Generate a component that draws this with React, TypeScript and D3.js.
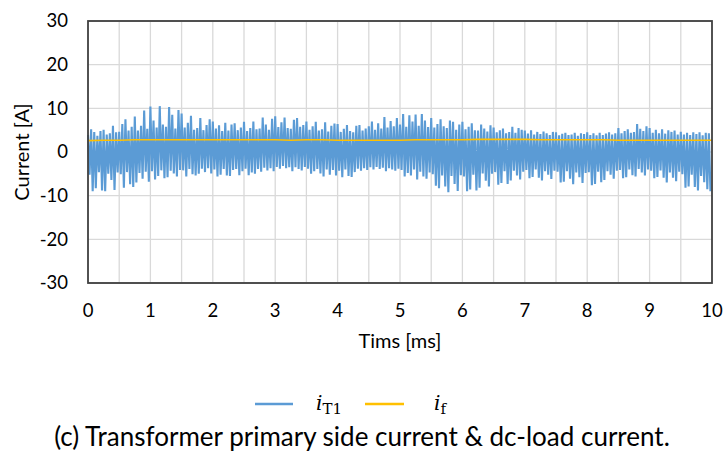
import React from "react";
import * as d3 from "d3";

// Time step between successive waveform cycles (ms)
const CYCLE_MS = 0.05;

// i_T1 positive spike tips per cycle (A) (5 per 0.25 ms)
const peaksT1: number[] = [
  3.9, 5.2, 4.6, 3.7, 4.8,
  5.1, 4.0, 4.3, 6.0, 4.5,
  4.6, 6.4, 7.5, 4.9, 5.8,
  8.1, 4.9, 6.0, 9.5, 5.3,
  10.4, 7.2, 5.6, 10.5, 6.3,
  5.8, 10.3, 8.5, 5.4, 9.6,
  8.8, 5.6, 6.7, 8.3, 5.1,
  5.5, 7.8, 5.0, 6.2, 7.5,
  7.0, 5.4, 6.1, 4.8, 6.7,
  4.9, 6.3, 6.6, 5.0, 5.6,
  6.9, 4.8, 5.5, 7.0, 5.2,
  5.4, 7.9, 6.3, 5.1, 7.6,
  8.2, 5.7, 6.8, 7.9, 5.5,
  5.3, 7.4, 7.8, 5.8, 6.2,
  7.0, 5.1, 5.9, 6.9, 4.9,
  5.2, 6.8, 4.7, 6.0, 6.5,
  6.4, 4.6, 5.3, 6.2, 4.8,
  4.5, 6.0, 6.2, 4.9, 5.4,
  5.9, 7.0, 5.1, 6.6, 5.4,
  8.0, 5.6, 7.1, 5.9, 7.8,
  6.3, 8.7, 5.8, 8.4, 7.0,
  8.6, 6.0, 8.7, 7.2, 5.7,
  7.8, 5.6, 6.4, 7.5, 5.9,
  5.5, 7.2, 6.9, 5.1, 6.3,
  6.9, 5.2, 5.8, 6.6, 5.0,
  4.9, 6.3, 5.4, 4.7, 6.1,
  5.6, 4.5, 5.0, 5.4, 4.3,
  4.6, 5.8, 4.4, 5.5, 5.1,
  4.9, 4.2, 5.0, 4.0, 4.6,
  4.1, 4.7, 4.3, 3.9, 4.6,
  4.5, 3.8, 4.2, 4.4, 3.9,
  4.0, 4.4, 3.7, 4.3, 4.1,
  4.5, 3.9, 4.3, 3.8, 4.4,
  3.9, 4.2, 4.5, 4.0, 4.3,
  5.5, 4.3, 4.8, 5.2, 4.4,
  4.6, 6.4, 5.3, 4.8, 5.9,
  5.5, 4.4, 5.1, 4.3, 5.2,
  4.2, 5.0, 4.6, 4.9, 4.0,
  4.6, 4.0, 4.4, 3.9, 4.5,
  4.1, 4.5, 3.8, 4.4, 4.3,
];

// i_T1 negative spike tips per cycle (A)
const troughsT1: number[] = [
  -5.2, -9.0, -8.3, -4.6, -8.8,
  -9.0, -5.0, -6.4, -8.7, -4.7,
  -5.1, -8.2, -4.6, -7.4, -8.0,
  -7.0, -4.8, -6.1, -4.5, -6.8,
  -4.4, -6.3, -5.5, -4.2, -6.0,
  -5.8, -4.3, -4.9, -5.6, -4.1,
  -4.2, -5.6, -3.9, -5.1, -5.4,
  -5.0, -3.8, -4.6, -3.7, -4.9,
  -4.0, -5.6, -5.2, -3.9, -5.4,
  -5.5, -4.1, -3.9, -5.3, -4.4,
  -3.8, -5.3, -4.7, -5.0, -3.9,
  -4.5, -3.6, -4.2, -3.7, -4.4,
  -3.4, -3.8, -3.2, -3.7, -3.5,
  -4.4, -3.5, -3.9, -4.2, -3.4,
  -3.8, -5.0, -4.4, -3.9, -4.9,
  -5.6, -4.0, -5.2, -4.1, -5.4,
  -4.3, -5.8, -4.0, -5.5, -5.7,
  -4.6, -3.8, -4.3, -3.7, -4.1,
  -3.5, -4.0, -3.4, -3.9, -3.6,
  -4.4, -3.7, -4.0, -4.3, -3.8,
  -4.1, -5.6, -4.8, -5.4, -4.0,
  -6.3, -4.5, -5.6, -6.1, -4.7,
  -5.1, -7.7, -8.3, -5.4, -7.9,
  -9.2, -5.5, -7.3, -8.9, -5.3,
  -5.6, -9.0, -8.6, -5.2, -8.8,
  -8.2, -4.9, -6.6, -7.9, -5.0,
  -4.6, -7.5, -7.1, -4.4, -7.3,
  -6.5, -4.3, -5.4, -6.3, -4.5,
  -4.1, -6.0, -5.7, -4.0, -5.9,
  -6.5, -4.4, -5.2, -6.2, -4.3,
  -4.5, -7.0, -6.8, -4.4, -6.1,
  -7.4, -4.7, -5.8, -7.1, -4.8,
  -4.6, -7.6, -7.3, -4.5, -6.9,
  -6.4, -4.4, -5.2, -6.1, -4.3,
  -4.1, -6.0, -5.8, -4.0, -5.3,
  -5.6, -3.9, -4.7, -5.4, -4.0,
  -4.3, -6.0, -5.7, -4.2, -5.9,
  -7.0, -4.7, -5.9, -6.7, -4.5,
  -5.1, -8.2, -7.9, -5.2, -8.0,
  -8.8, -5.5, -6.9, -8.5, -9.0,
];

// i_f (dc-load current) sampled every 0.25 ms
const IF_STEP_MS = 0.25;
const iF: number[] = [
  2.6, 2.7, 2.7, 2.8, 2.8, 2.8, 2.8, 2.8, 2.8, 2.8,
  2.8, 2.8, 2.8, 2.7, 2.8, 2.8, 2.7, 2.7, 2.7, 2.7,
  2.7, 2.8, 2.8, 2.8, 2.8, 2.9, 2.9, 2.9, 2.9, 2.8,
  2.8, 2.8, 2.8, 2.8, 2.7, 2.7, 2.7, 2.7, 2.7, 2.7, 2.7,
];

const xTicks = [0, 1, 2, 3, 4, 5, 6, 7, 8, 9, 10];
const xGrid = [0.5, 1, 1.5, 2, 2.5, 3, 3.5, 4, 4.5, 5, 5.5, 6, 6.5, 7, 7.5, 8, 8.5, 9, 9.5];
const yTicks = [-30, -20, -10, 0, 10, 20, 30];

const X_LABEL = "Tims [ms]";
const Y_LABEL = "Current [A]";
const CAPTION = "(c) Transformer primary side current & dc-load current.";

const BLUE = "#5B9BD5";
const ORANGE = "#FFC000";
const FONT = "Lato, 'Open Sans', sans-serif";
const MATH_FONT = "'DejaVu Serif', 'Liberation Serif', serif";

export default function App() {
  const W = 726, H = 461;
  const L = 88, R = 712, T = 21, B = 283;
  const x = d3.scaleLinear().domain([0, 10]).range([L, R]);
  const y = d3.scaleLinear().domain([-30, 30]).range([B, T]);

  const ptsT1: [number, number][] = [];
  peaksT1.forEach((p, i) => {
    ptsT1.push([i * CYCLE_MS, p]);
    ptsT1.push([i * CYCLE_MS + CYCLE_MS / 2, troughsT1[i]]);
  });
  const line = d3.line<[number, number]>().x(d => x(d[0])).y(d => y(d[1]));
  const ptsF: [number, number][] = iF.map((v, i) => [i * IF_STEP_MS, v]);

  return (
    <svg width={W} height={H} style={{ position: "absolute", left: 0, top: 0, background: "#fff" }}>
      <rect x={0} y={0} width={W} height={H} fill="#fff" />
      {xGrid.map(t => (
        <line key={"gx" + t} x1={x(t)} x2={x(t)} y1={T} y2={B} stroke="#d9d9d9" strokeWidth={1.3} />
      ))}
      {yTicks.map(v => (
        <line key={"gy" + v} x1={L} x2={R} y1={y(v)} y2={y(v)} stroke="#d9d9d9" strokeWidth={1.3} />
      ))}
      <path d={line(ptsT1) || ""} fill="none" stroke={BLUE} strokeWidth={2.1} strokeLinejoin="miter" />
      <path d={line(ptsF) || ""} fill="none" stroke={ORANGE} strokeWidth={1.6} />
      <rect x={L} y={T} width={R - L} height={B - T} fill="none" stroke="#404040" strokeWidth={1.8} />
      {yTicks.map(v => (
        <text key={"ty" + v} x={68} y={y(v)} dy="0.35em" textAnchor="end" fontFamily={FONT} fontSize={18.5} fill="#000">
          {v}
        </text>
      ))}
      {xTicks.map(t => (
        <text key={"tx" + t} x={x(t)} y={317} textAnchor="middle" fontFamily={FONT} fontSize={18.5} fill="#000">
          {t}
        </text>
      ))}
      <text x={400} y={348} textAnchor="middle" fontFamily={FONT} fontSize={20} fill="#000">{X_LABEL}</text>
      <text transform={`translate(29,${(T + B) / 2}) rotate(-90)`} textAnchor="middle" fontFamily={FONT} fontSize={20} fill="#000">
        {Y_LABEL}
      </text>
      {/* legend */}
      <line x1={255} x2={293} y1={404} y2={404} stroke={BLUE} strokeWidth={2.5} />
      <text x={316} y={410} fontFamily={MATH_FONT} fontSize={20} fill="#000">
        <tspan fontStyle="italic">i</tspan>
        <tspan fontSize={15} dy={4}>T1</tspan>
      </text>
      <line x1={365} x2={404} y1={404} y2={404} stroke={ORANGE} strokeWidth={2.5} />
      <text x={434} y={410} fontFamily={MATH_FONT} fontSize={20} fill="#000">
        <tspan fontStyle="italic">i</tspan>
        <tspan fontSize={15} dy={4}>f</tspan>
      </text>
      <text x={362} y={446} textAnchor="middle" fontFamily={FONT} fontSize={26} fill="#000">{CAPTION}</text>
    </svg>
  );
}
